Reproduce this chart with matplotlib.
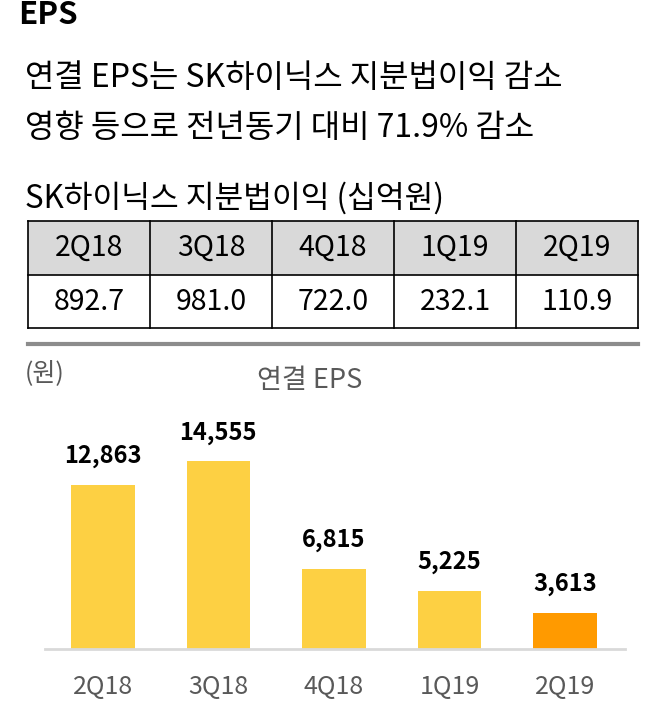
import matplotlib
matplotlib.use("Agg")
import matplotlib.pyplot as plt
from matplotlib.patches import Rectangle

plt.rcParams['font.family'] = ['Noto Sans CJK KR', 'DejaVu Sans']

# data
quarters = ["2Q18", "3Q18", "4Q18", "1Q19", "2Q19"]
equity_income = ["892.7", "981.0", "722.0", "232.1", "110.9"]   # SK하이닉스 지분법이익 (십억원)
eps = [12863, 14555, 6815, 5225, 3613]                           # 연결 EPS (원)
bar_colors = ["#FDD043", "#FDD043", "#FDD043", "#FDD043", "#FF9A00"]

W, H = 670, 702
fig = plt.figure(figsize=(W / 100, H / 100), dpi=100)

# overlay axes in pixel coords for headline text + table
ov = fig.add_axes([0, 0, 1, 1])
ov.set_xlim(0, W); ov.set_ylim(H, 0); ov.axis("off")

ov.text(18, 15, "EPS", fontsize=22.5, fontweight="bold", va="center", ha="left")
ov.text(25, 78, "연결 EPS는 SK하이닉스 지분법이익 감소", fontsize=23, va="center", ha="left")
ov.text(25, 128, "영향 등으로 전년동기 대비 71.9% 감소", fontsize=23, va="center", ha="left")
ov.text(25, 198, "SK하이닉스 지분법이익 (십억원)", fontsize=22.5, va="center", ha="left")

# table
tx0, tx1 = 28, 638
ty0, ty1, ty2 = 221, 275, 328
cw = (tx1 - tx0) / len(quarters)
ov.add_patch(Rectangle((tx0, ty0), tx1 - tx0, ty1 - ty0, facecolor="#D9D9D9", edgecolor="none"))
for y in (ty0, ty1, ty2):
    ov.plot([tx0, tx1], [y, y], color="black", lw=1.2)
for i in range(len(quarters) + 1):
    ov.plot([tx0 + i * cw] * 2, [ty0, ty2], color="black", lw=1.2)
for i, (q, v) in enumerate(zip(quarters, equity_income)):
    cx = tx0 + (i + 0.5) * cw
    ov.text(cx, (ty0 + ty1) / 2, q, fontsize=20.5, ha="center", va="center")
    ov.text(cx, (ty1 + ty2) / 2, v, fontsize=20.5, ha="center", va="center")
ov.plot([tx0, tx1], [344, 344], color="#8C8C8C", lw=3)

ov.text(25, 373, "(원)", fontsize=18, color="#595959", va="center", ha="left")
ov.text(310, 380, "연결 EPS", fontsize=19.5, color="#595959", va="center", ha="center")

# bar chart
ax = fig.add_axes([45 / W, 1 - 649 / H, 580 / W, 249 / H])
x = range(len(quarters))
bars = ax.bar(x, eps, width=0.55, color=bar_colors)
ax.set_ylim(1000, 19000)
ax.set_xlim(-0.5, 4.52)
for s in ("top", "right", "left"):
    ax.spines[s].set_visible(False)
ax.spines["bottom"].set_color("#D9D9D9")
ax.spines["bottom"].set_linewidth(2)
ax.set_yticks([])
ax.set_xticks(list(x))
ax.set_xticklabels(quarters, fontsize=18, color="#595959")
ax.tick_params(axis="x", length=0, pad=18)
ax.patch.set_alpha(0)
for b, v in zip(bars, eps):
    ax.annotate(f"{v:,}", (b.get_x() + b.get_width() / 2, v), xytext=(0, 16),
                textcoords="offset points", ha="center", va="baseline",
                fontsize=17, fontweight="bold")

fig.savefig("out.png", dpi=100)
